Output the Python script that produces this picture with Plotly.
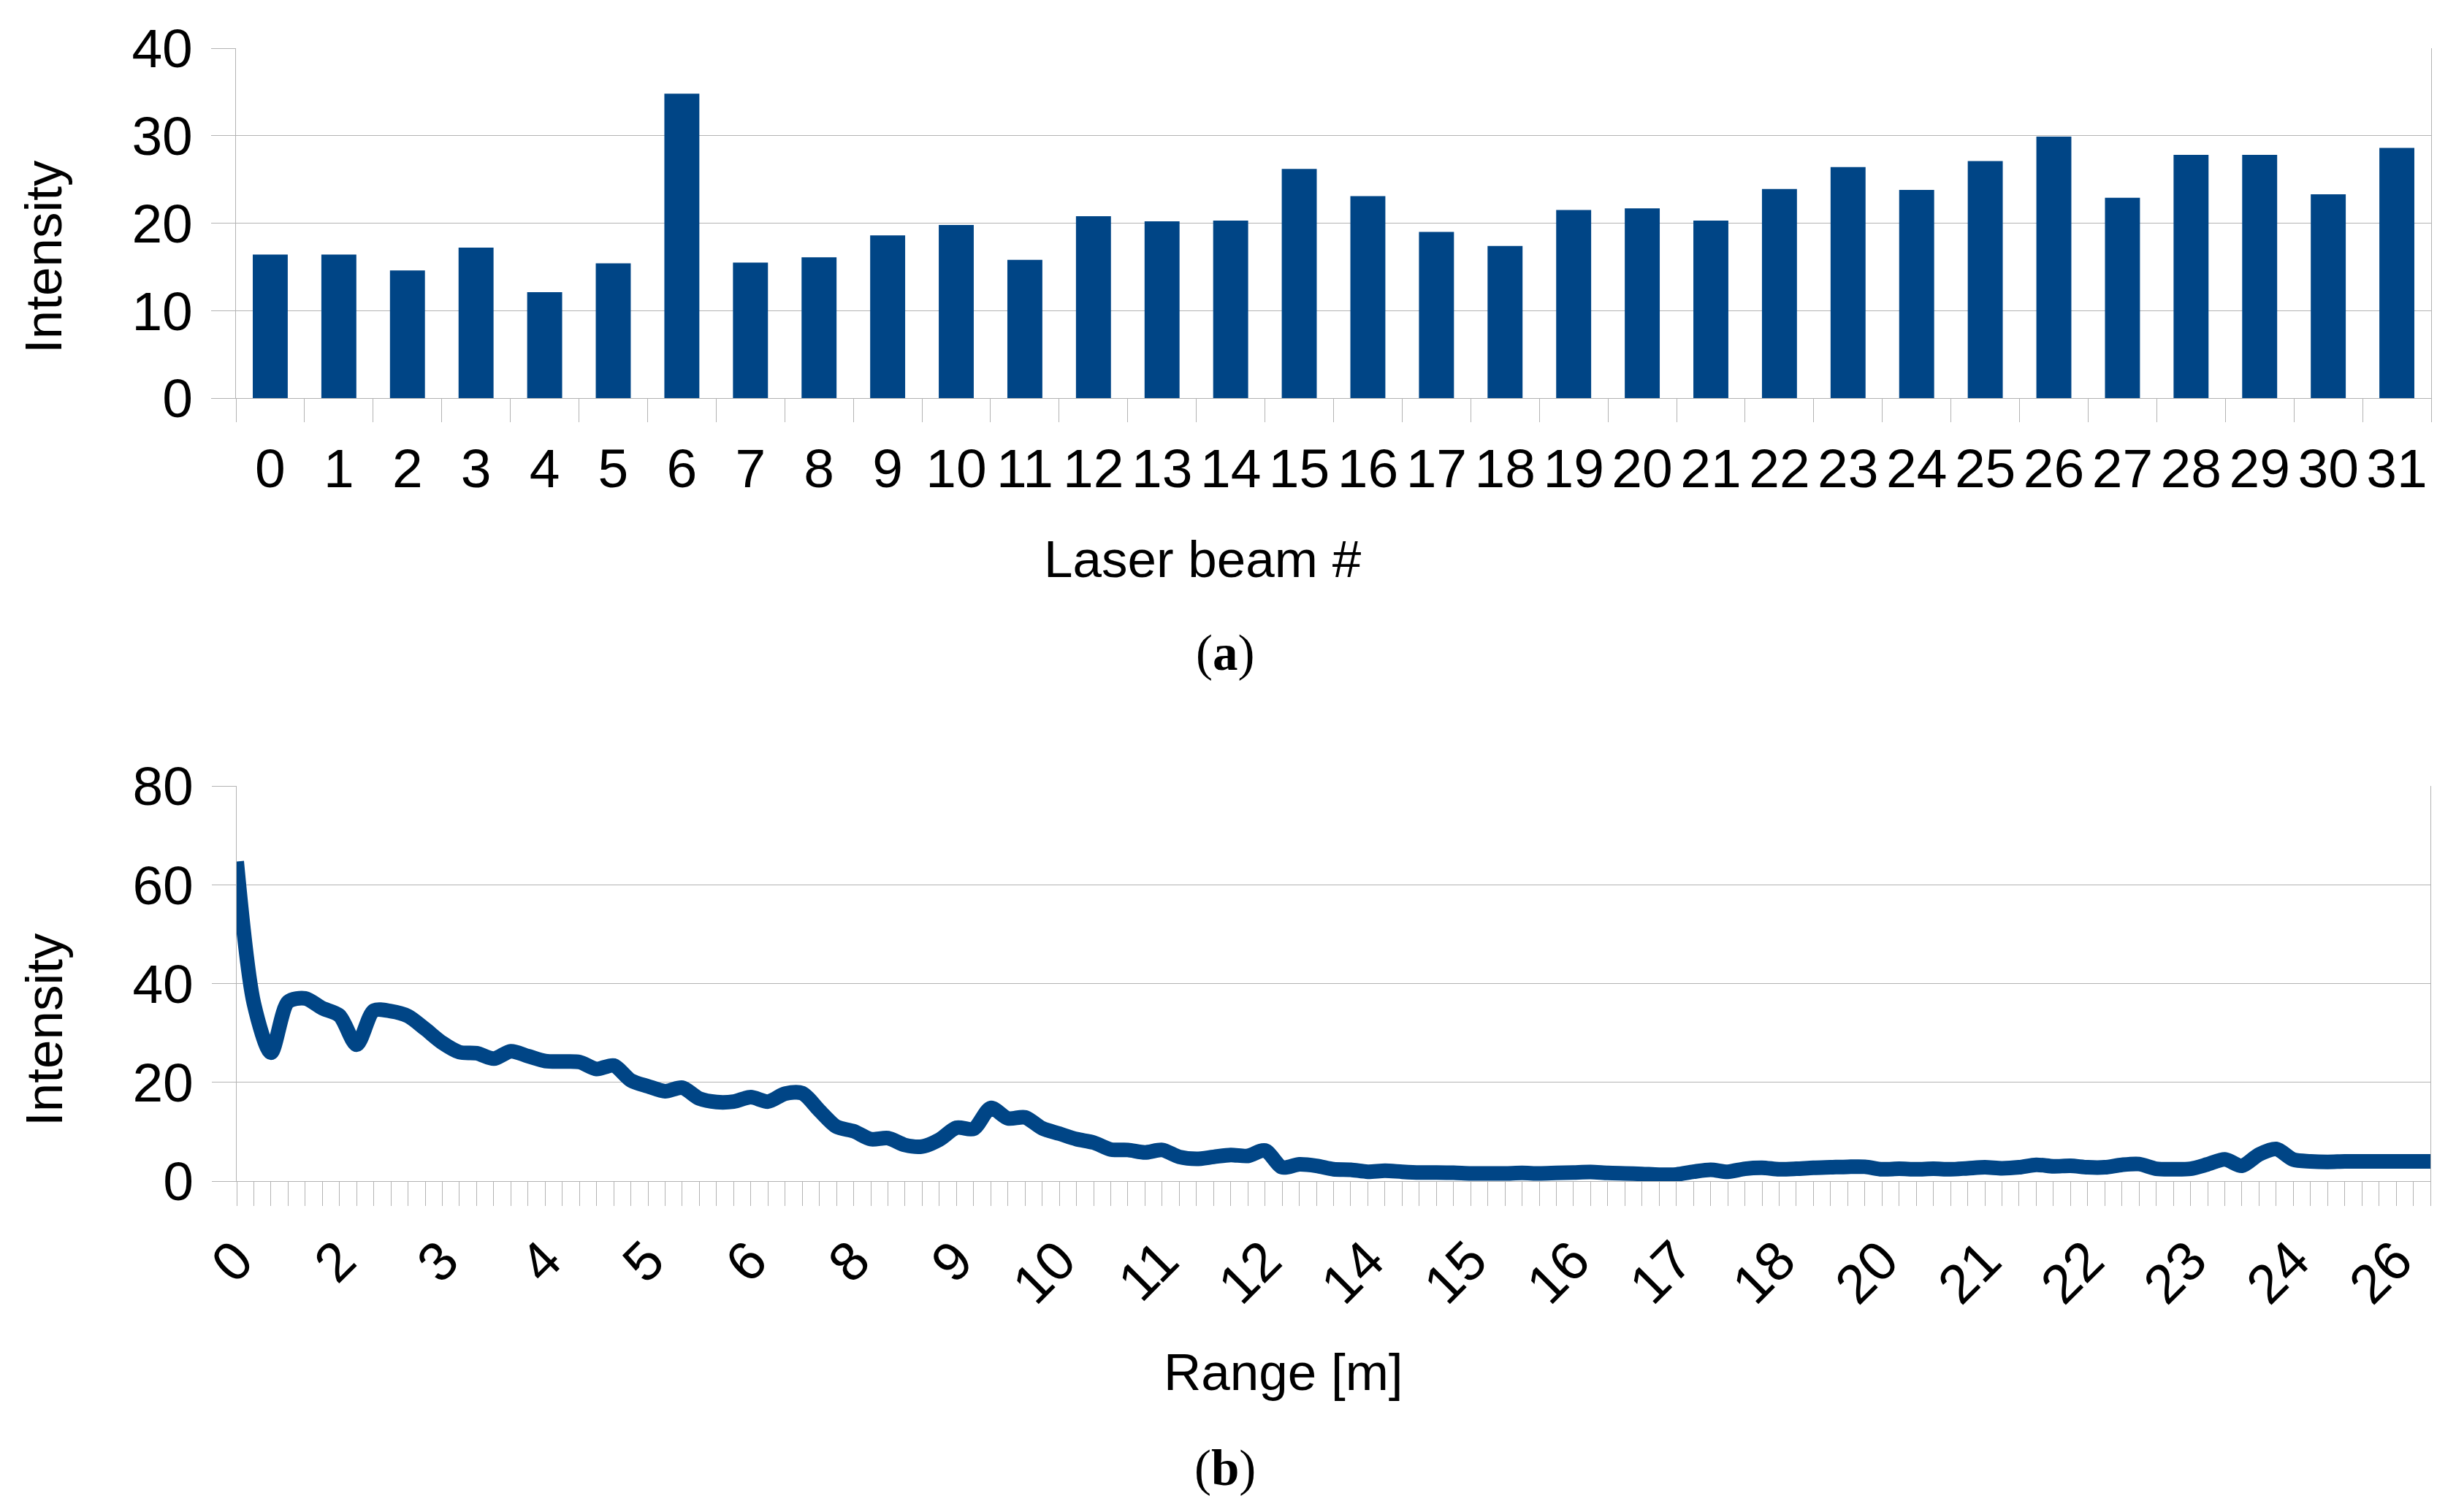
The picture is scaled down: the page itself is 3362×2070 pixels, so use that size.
import plotly.graph_objects as go

# ---------------- data ----------------
beam_ids = [str(i) for i in range(32)]
beam_intensity = [16.4, 16.4, 14.6, 17.2, 12.1, 15.4, 34.8, 15.5,
                  16.1, 18.6, 19.8, 15.8, 20.8, 20.2, 20.3, 26.2,
                  23.1, 19.0, 17.4, 21.5, 21.7, 20.3, 23.9, 26.4,
                  23.8, 27.1, 29.9, 22.9, 27.8, 27.8, 23.3, 28.6]

range_intensity = [64.7, 36.0, 26.0, 36.3, 37.0, 35.0, 33.5, 27.6, 34.5, 34.4,
                   33.4, 30.8, 28.0, 26.1, 25.9, 24.8, 26.3, 25.3, 24.3, 24.2,
                   24.1, 22.7, 23.4, 20.4, 19.2, 18.2, 18.9, 16.7, 16.0, 16.1,
                   17.0, 16.1, 17.7, 17.8, 14.3, 11.0, 10.1, 8.5, 8.7, 7.3,
                   7.0, 8.4, 10.8, 10.6, 14.8, 12.7, 12.9, 10.7, 9.6, 8.5,
                   7.8, 6.4, 6.3, 5.8, 6.3, 4.9, 4.5, 4.9, 5.3, 5.1,
                   6.2, 2.8, 3.4, 3.1, 2.4, 2.3, 1.9, 2.1, 1.9, 1.75,
                   1.75, 1.7, 1.55, 1.55, 1.55, 1.65, 1.55, 1.65, 1.75, 1.85,
                   1.65, 1.55, 1.45, 1.3, 1.35, 1.9, 2.3, 1.9, 2.5, 2.7,
                   2.4, 2.5, 2.7, 2.8, 2.9, 2.9, 2.4, 2.5, 2.4, 2.5,
                   2.4, 2.6, 2.8, 2.6, 2.8, 3.3, 3.0, 3.1, 2.8, 2.8,
                   3.3, 3.45, 2.5, 2.4, 2.5, 3.4, 4.4, 3.1, 5.4, 6.5,
                   4.35, 4.0, 3.9, 4.0, 4.0, 4.0, 4.0, 4.0, 4.0]
range_sample = list(range(len(range_intensity)))
range_tick_step = 6
range_tick_labels = ["0", "2", "3", "4", "5", "6", "8", "9", "10", "11", "12",
                     "14", "15", "16", "17", "18", "20", "21", "22", "23", "24", "26"]

# ---------------- style ----------------
W, H = 3362, 2070
BLUE = "#004586"
GRID = "#b3b3b3"
FONT = "Liberation Sans, Arial, sans-serif"
SERIF = "Palatino Linotype, Palatino, Liberation Serif, serif"
TICK_SIZE = 75
TITLE_SIZE = 71


def px(x):
    return x / W


def py(y):
    return 1 - y / H


fig = go.Figure()

fig.add_trace(go.Bar(x=beam_ids, y=beam_intensity, marker=dict(color=BLUE, line=dict(width=0)),
                     xaxis="x", yaxis="y", showlegend=False))

fig.add_trace(go.Scatter(x=range_sample, y=range_intensity, mode="lines",
                         line=dict(color=BLUE, width=20, shape="spline", smoothing=0.8),
                         xaxis="x2", yaxis="y2", showlegend=False))

tickvals_b = range_sample[::range_tick_step]

fig.update_layout(
    width=W, height=H, autosize=False,
    margin=dict(l=0, r=0, t=0, b=0, autoexpand=False),
    paper_bgcolor="white", plot_bgcolor="white",
    bargap=0.49,
    font=dict(family=FONT, color="black"),
    xaxis=dict(domain=[px(323), px(3328)], anchor="y", type="category", automargin=False,
               tickson="boundaries", ticks="outside", ticklen=32, tickwidth=1.3,
               tickcolor=GRID, showgrid=False, showline=True, linecolor=GRID,
               linewidth=1.3, tickangle=0, tickfont=dict(size=TICK_SIZE, family=FONT),
               ticklabelstandoff=31),
    yaxis=dict(domain=[py(545), py(66)], anchor="x", range=[0, 40], dtick=10, automargin=False,
               ticks="outside", ticklen=33, tickwidth=1.3, tickcolor=GRID,
               showgrid=True, gridcolor=GRID, gridwidth=1.3, zeroline=False,
               showline=True, linecolor=GRID, linewidth=1.3, mirror=True,
               tickfont=dict(size=TICK_SIZE, family=FONT), ticklabelstandoff=10),
    xaxis2=dict(domain=[px(324), px(3327)], anchor="y2", range=[0, len(range_sample) - 1],
                automargin=False,
                tickmode="array", tickvals=tickvals_b, ticktext=range_tick_labels,
                tickangle=-45, ticks="outside", ticklen=33, tickwidth=1.3, tickcolor=GRID,
                minor=dict(tickmode="array", tickvals=range_sample, ticks="outside",
                           ticklen=33, tickwidth=1.3, tickcolor=GRID, showgrid=False),
                showgrid=False, zeroline=False, showline=True, linecolor=GRID, linewidth=1.3,
                tickfont=dict(size=TICK_SIZE, family=FONT)),
    yaxis2=dict(domain=[py(1617), py(1076)], anchor="x2", range=[0, 80], dtick=20, automargin=False,
                ticks="outside", ticklen=33, tickwidth=1.3, tickcolor=GRID,
                showgrid=True, gridcolor=GRID, gridwidth=1.3, zeroline=False,
                showline=True, linecolor=GRID, linewidth=1.3, mirror=True,
                tickfont=dict(size=TICK_SIZE, family=FONT), ticklabelstandoff=10),
)

annots = [
    dict(text="Intensity", x=px(60), y=py(352), textangle=-90, size=TITLE_SIZE, fam=FONT),
    dict(text="Laser beam #", x=px(1646), y=py(765), textangle=0, size=TITLE_SIZE, fam=FONT),
    dict(text="(<b>a</b>)", x=px(1677), y=py(894), textangle=0, size=69, fam=SERIF),
    dict(text="Intensity", x=px(60), y=py(1410), textangle=-90, size=TITLE_SIZE, fam=FONT),
    dict(text="Range [m]", x=px(1757), y=py(1878), textangle=0, size=TITLE_SIZE, fam=FONT),
    dict(text="(<b>b</b>)", x=px(1677), y=py(2010), textangle=0, size=69, fam=SERIF),
]
for a in annots:
    fig.add_annotation(text=a["text"], x=a["x"], y=a["y"], xref="paper", yref="paper",
                       xanchor="center", yanchor="middle", showarrow=False,
                       textangle=a["textangle"], font=dict(size=a["size"], family=a["fam"], color="black"))

fig.write_html("out.html", include_plotlyjs=True, full_html=True,
               config={"displayModeBar": False},
               post_script="document.body.style.margin='0';document.body.style.overflow='hidden';")
